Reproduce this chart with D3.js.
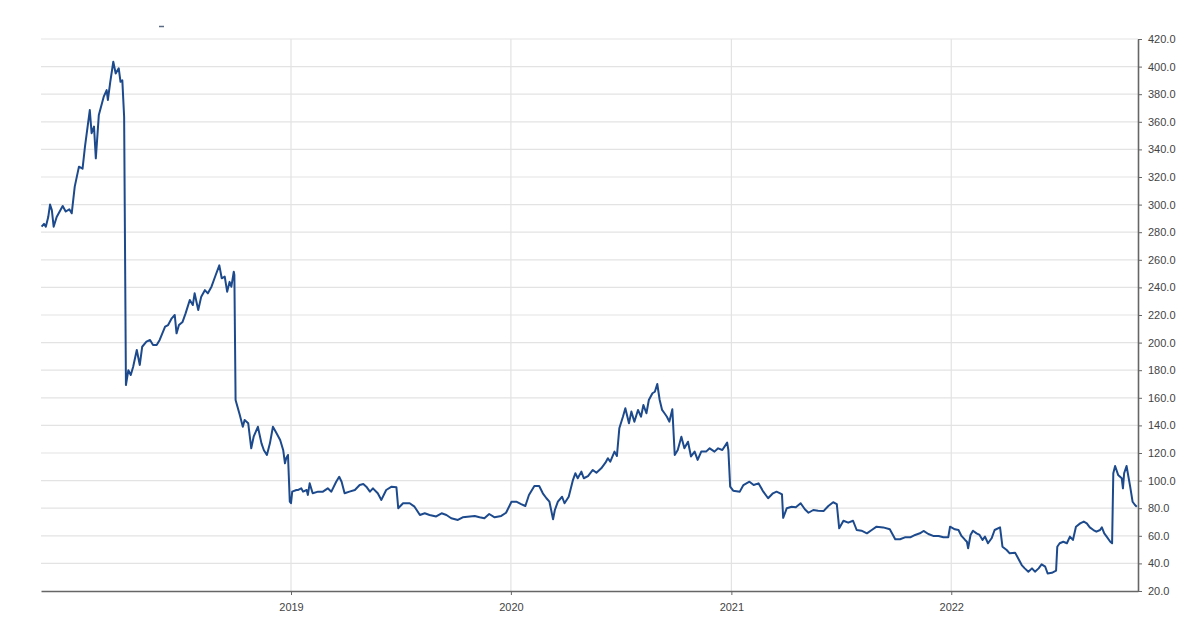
<!DOCTYPE html>
<html>
<head>
<meta charset="utf-8">
<script src="https://cdn.jsdelivr.net/npm/d3@7/dist/d3.min.js"></script>
<style>
  html, body { margin: 0; padding: 0; background: #fff; }
  svg { display: block; font-family: "Liberation Sans", Arial, sans-serif; }
</style>
</head>
<body>
<svg id="chart" width="1200" height="624"></svg>
<script>
// ---- Data ----
const dates = [
"2017-11-13","2017-11-17","2017-11-20","2017-11-24","2017-11-27","2017-11-30","2017-12-03","2017-12-08","2017-12-18","2017-12-23","2017-12-29",
"2018-01-02","2018-01-07","2018-01-14","2018-01-20","2018-01-24","2018-02-01","2018-02-04","2018-02-08","2018-02-11","2018-02-16","2018-02-24",
"2018-03-01","2018-03-03","2018-03-07","2018-03-12","2018-03-16","2018-03-21","2018-03-24","2018-03-27","2018-03-30","2018-04-02","2018-04-06",
"2018-04-10","2018-04-14","2018-04-20","2018-04-25","2018-04-29","2018-05-06","2018-05-12","2018-05-17","2018-05-23","2018-05-28","2018-06-06",
"2018-06-11","2018-06-17","2018-06-22","2018-06-25","2018-06-29","2018-07-05","2018-07-10","2018-07-17","2018-07-22","2018-07-25","2018-07-31",
"2018-08-05","2018-08-11","2018-08-16","2018-08-22","2018-08-29","2018-09-04","2018-09-08","2018-09-13","2018-09-17","2018-09-21","2018-09-24",
"2018-09-28","2018-09-29","2018-10-01","2018-10-08","2018-10-13","2018-10-16","2018-10-22","2018-10-27","2018-10-31","2018-11-07","2018-11-13",
"2018-11-17","2018-11-22","2018-11-27","2018-12-02","2018-12-08","2018-12-14","2018-12-19","2018-12-22","2018-12-24","2018-12-27","2018-12-30",
"2019-01-01","2019-01-03","2019-01-10","2019-01-13","2019-01-18","2019-01-21","2019-01-27","2019-01-29","2019-02-01","2019-02-06","2019-02-15",
"2019-02-23","2019-03-03","2019-03-09","2019-03-17","2019-03-22","2019-03-26","2019-03-31","2019-04-08","2019-04-17","2019-04-25","2019-05-01",
"2019-05-06","2019-05-12","2019-05-17","2019-05-25","2019-05-31","2019-06-08","2019-06-17","2019-06-25","2019-06-28","2019-07-06","2019-07-17",
"2019-07-25","2019-08-03","2019-08-11","2019-08-19","2019-08-30","2019-09-08","2019-09-16","2019-09-24","2019-10-05","2019-10-13","2019-10-25",
"2019-11-02","2019-11-10","2019-11-18","2019-11-26","2019-12-05","2019-12-16","2019-12-24",
"2020-01-02","2020-01-10","2020-01-18","2020-01-25","2020-01-31","2020-02-09","2020-02-17","2020-02-23","2020-02-29","2020-03-05","2020-03-11",
"2020-03-14","2020-03-19","2020-03-26","2020-03-30","2020-04-06","2020-04-13","2020-04-17","2020-04-21","2020-04-27","2020-05-01","2020-05-08",
"2020-05-16","2020-05-22","2020-05-30","2020-06-06","2020-06-10","2020-06-14","2020-06-21","2020-06-25","2020-06-29","2020-07-05","2020-07-09",
"2020-07-15","2020-07-19","2020-07-24","2020-07-30","2020-08-04","2020-08-08","2020-08-13","2020-08-17","2020-08-23","2020-08-27","2020-08-31",
"2020-09-04","2020-09-08","2020-09-12","2020-09-16","2020-09-20","2020-09-25","2020-09-29","2020-10-04","2020-10-10","2020-10-15","2020-10-21",
"2020-10-26","2020-11-01","2020-11-06","2020-11-12","2020-11-20","2020-11-26","2020-12-04","2020-12-10","2020-12-17","2020-12-25","2020-12-27",
"2020-12-30","2021-01-04","2021-01-15","2021-01-21","2021-01-31","2021-02-07","2021-02-15","2021-02-23","2021-03-03","2021-03-11","2021-03-17",
"2021-03-23","2021-03-26","2021-03-28","2021-04-03","2021-04-11","2021-04-18","2021-04-26","2021-05-03","2021-05-09","2021-05-17","2021-05-25",
"2021-06-03","2021-06-11","2021-06-19","2021-06-25","2021-06-29","2021-07-06","2021-07-14","2021-07-22","2021-07-28","2021-08-05","2021-08-14",
"2021-08-22","2021-08-30","2021-09-10","2021-09-21","2021-09-30","2021-10-08","2021-10-16","2021-10-25","2021-11-02","2021-11-10","2021-11-16",
"2021-11-24","2021-12-02","2021-12-11","2021-12-19","2021-12-27","2021-12-30",
"2022-01-07","2022-01-13","2022-01-18","2022-01-24","2022-01-27","2022-01-29","2022-02-02","2022-02-06","2022-02-12","2022-02-17","2022-02-22",
"2022-02-26","2022-03-03","2022-03-09","2022-03-14","2022-03-23","2022-03-27","2022-04-03","2022-04-08","2022-04-17","2022-04-22","2022-04-28",
"2022-05-03","2022-05-09","2022-05-15","2022-05-20","2022-05-26","2022-05-31","2022-06-06","2022-06-10","2022-06-17","2022-06-24","2022-06-26",
"2022-06-30","2022-07-06","2022-07-12","2022-07-17","2022-07-22","2022-07-27","2022-08-03","2022-08-09","2022-08-14","2022-08-19","2022-08-25",
"2022-08-30","2022-09-05","2022-09-08","2022-09-12","2022-09-16","2022-09-22","2022-09-25","2022-09-27","2022-09-30","2022-10-05","2022-10-11",
"2022-10-13","2022-10-15","2022-10-19","2022-10-25","2022-10-29","2022-11-02","2022-11-05"
];
const values = [
284,286,284,291,300,296,284,291,299,295,296.6,
293.7,313,327.5,326,342,368.5,351.7,356.5,333.5,365,378,
383,375.8,389,403.5,395,398.8,389,390,363.7,169.3,180,
176.5,182.5,194.6,183.8,197,200.7,201.9,198.3,198.3,201.9,211.5,
212.7,217.6,220,206.7,212.7,215,221.2,230.9,227.2,235.7,223.6,
233.3,238,235.7,240.5,249,256,246.6,247.8,236.9,244,240.5,
251.4,249,158.4,147.5,139,143.9,141.5,123.4,131.8,139,127,
122,118.6,127,139,134.3,129.4,122.2,112.5,116.2,118.6,84.7,
83.6,92,93.2,93.2,94.4,92,93.2,89.6,98,90.8,92,
92,94.4,92,99.2,102.8,99.2,90.8,92,93.2,96.8,97.5,
95.6,92,94.4,90.8,86,93.2,95.6,95.1,80,83.6,83.6,
81.1,75.1,76.3,75.1,74,76.3,75.1,72.7,71.5,73.4,74,
74.4,73.4,72.7,75.8,73.4,74.4,76.7,
84.7,84.7,83,81.6,89.6,96.1,96.1,90.8,87.2,84.7,72,
78.7,84.7,88.3,83.6,88.3,100.4,105.3,101.7,106.5,101.7,103.3,
107.7,105.7,108.9,113,116.2,113.7,121,117.8,137.9,146.3,152.4,
141.5,150,142.7,151.2,146.3,154.8,148.8,158.4,163.3,164.4,170,
158.4,151.2,148.8,146.3,142.7,151.7,118.6,122.2,131.8,123.4,128.2,
117.5,121,115,121,121,123.4,121,123.4,122.2,127.5,122.2,
95.6,92.7,92,96.8,99.2,96.8,98,92,87.2,90.8,92,
90.8,90,73,80,81.1,80.7,83.6,79.2,76.7,78.7,78.2,
77.9,81.6,84.3,83,65.4,70.9,69.5,70.9,64.2,63.7,61.8,
64.2,66.6,66.1,64.7,57.5,57.5,58.9,58.9,60.6,61.8,63.5,
61.3,59.9,59.9,58.9,58.9,66.6,
64.7,64.2,59.9,57,55.7,51,60.6,63.7,61.8,60.6,57,
59.4,54.6,58.2,64.2,66.1,52.1,49.7,47.3,47.8,43.7,38.8,
36.4,34,36.4,34,36.4,39.3,37.6,32.7,33.2,34.7,52.1,
54.6,55.7,54.6,59.4,57,66.6,69,70.3,69,66.1,64.2,
63,64.2,66.1,61.8,59.4,55.7,54.6,105.3,110.6,104.1,101.7,
94.4,105.3,110.6,95.6,84.7,82.3,81.1
];
const yTicks = [20,40,60,80,100,120,140,160,180,200,220,240,260,280,300,320,340,360,380,400,420];
const xTickLabels = ["2019","2020","2021","2022"];
const xDomain = ["2017-11-12","2022-11-07"];

// ---- Chart ----
const parse = d3.timeParse("%Y-%m-%d");
const n = Math.min(dates.length, values.length);
const data = dates.slice(0, n).map((d, i) => ({ date: parse(d), value: values[i] }));

const svg = d3.select("#chart");
const mLeft = 41, mRight = 1138, mTop = 39, mBottom = 591;

const x = d3.scaleTime().domain(xDomain.map(parse)).range([mLeft, mRight]);
const y = d3.scaleLinear().domain([20, 420]).range([mBottom, mTop]);
const xTickDates = xTickLabels.map(s => parse(s + "-01-01"));

// horizontal gridlines
svg.append("g").selectAll("line").data(yTicks.filter(t => t > 20)).join("line")
  .attr("x1", mLeft).attr("x2", mRight)
  .attr("y1", d => y(d)).attr("y2", d => y(d))
  .attr("stroke", "#e3e3e3").attr("stroke-width", 1.2);

// vertical gridlines
svg.append("g").selectAll("line").data(xTickDates).join("line")
  .attr("x1", d => x(d)).attr("x2", d => x(d))
  .attr("y1", mTop).attr("y2", mBottom)
  .attr("stroke", "#e3e3e3").attr("stroke-width", 1.2);

// x axis
const xAxis = svg.append("g").attr("transform", `translate(0,${mBottom})`)
  .call(d3.axisBottom(x).tickValues(xTickDates).tickFormat(d3.timeFormat("%Y")).tickSize(4).tickSizeOuter(0));
xAxis.select(".domain").attr("stroke", "#666").attr("stroke-width", 1.6);
xAxis.selectAll(".tick line").attr("stroke", "#666");
xAxis.selectAll("text").attr("fill", "#444").attr("font-size", 11).attr("dy", "1.2em")
  .attr("font-family", "Liberation Sans, Arial, sans-serif");

// y axis (right)
const yAxis = svg.append("g").attr("transform", `translate(${mRight},0)`)
  .call(d3.axisRight(y).tickValues(yTicks).tickFormat(d3.format(".1f")).tickSize(4).tickSizeOuter(0));
yAxis.select(".domain").attr("stroke", "#666").attr("stroke-width", 1.6);
yAxis.selectAll(".tick line").attr("stroke", "#666");
yAxis.selectAll("text").attr("fill", "#444").attr("font-size", 11).attr("x", 10)
  .attr("font-family", "Liberation Sans, Arial, sans-serif");

// line
const line = d3.line().x(d => x(d.date)).y(d => y(d.value));
svg.append("path").datum(data)
  .attr("d", line)
  .attr("fill", "none")
  .attr("stroke", "#1d4a8c")
  .attr("stroke-width", 2)
  .attr("stroke-linejoin", "round");

// small legend mark
svg.append("line").attr("x1", 159).attr("x2", 164).attr("y1", 26.5).attr("y2", 26.5)
  .attr("stroke", "#5a6a85").attr("stroke-width", 1.5);
</script>
</body>
</html>
